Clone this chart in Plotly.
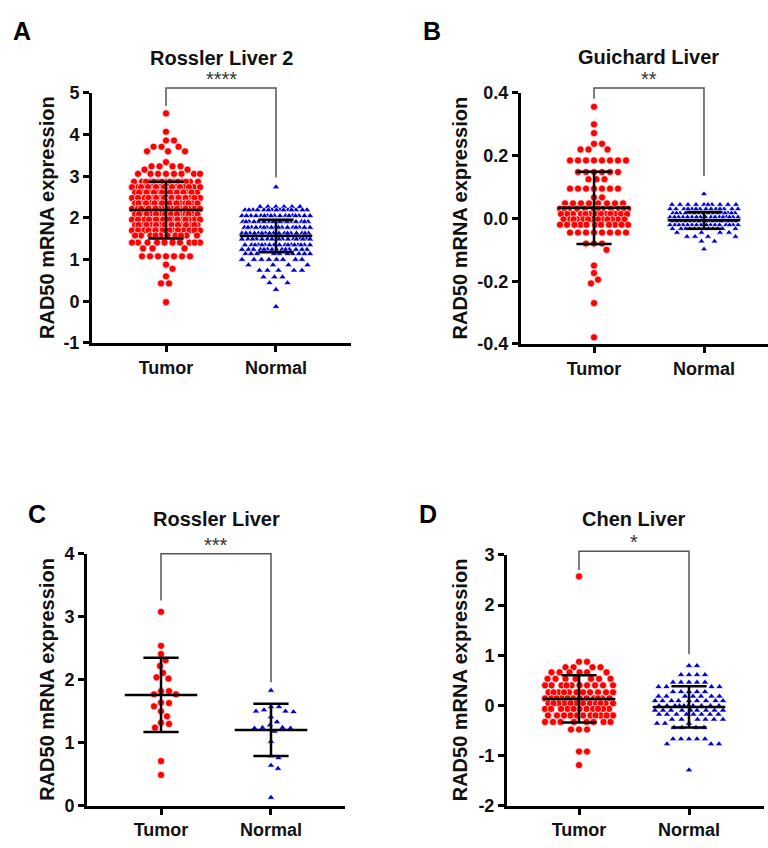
import numpy as np
import plotly.graph_objects as go

# ---------------- data ----------------
groups = ["Tumor", "Normal"]

# A: Rossler Liver 2 (value of each swarm row and the number of points in that row)
a_tumor_levels = [4.51, 4.07, 3.86, 3.71, 3.60, 3.34, 3.24, 3.16, 3.06,
                  2.87, 2.74, 2.61, 2.48, 2.35, 2.22, 2.09, 1.96, 1.83, 1.70,
                  1.58, 1.41, 1.27, 1.08, 0.88, 0.78, 0.60, 0.43, -0.02]
a_tumor_counts = [1, 1, 2, 3, 3, 1, 4, 2, 8,
                  15, 17, 17, 17, 17, 17, 17, 17, 17, 16,
                  10, 10, 3, 7, 1, 1, 1, 2, 1]
a_normal_levels = [2.74, 2.27, 2.19, 2.05, 1.91, 1.77, 1.63, 1.49, 1.35, 1.24,
                   1.14, 1.00, 0.87, 0.74, 0.58, 0.44, 0.28, -0.13]
a_normal_counts = [1, 6, 15, 17, 17, 17, 17, 17, 17, 14,
                   10, 8, 4, 5, 3, 2, 1, 1]

# B: Guichard Liver
b_tumor_levels = [0.356, 0.300, 0.272, 0.238, 0.220, 0.185, 0.148, 0.125, 0.095, 0.067,
                  0.048, 0.031, 0.014, -0.003, -0.020, -0.045, -0.080, -0.100,
                  -0.150, -0.174, -0.195, -0.207, -0.270, -0.379]
b_tumor_counts = [1, 1, 1, 2, 3, 8, 6, 3, 7, 2,
                  8, 12, 13, 13, 11, 8, 3, 1,
                  1, 1, 1, 1, 1, 1]
b_normal_levels = [0.078, 0.044, 0.030, 0.017, 0.004, -0.009, -0.021, -0.033,
                   -0.045, -0.058, -0.073, -0.098]
b_normal_counts = [1, 10, 14, 16, 17, 17, 16, 12, 4, 4, 2, 1]

# C: Rossler Liver (individual values)
c_tumor_values = [3.08, 2.54, 2.41, 2.31, 2.22, 2.11, 2.04, 2.02, 1.82, 1.77, 1.77, 1.82,
                  1.64, 1.63, 1.58, 1.50, 1.42, 1.32, 1.30, 1.24, 0.71, 0.49]
c_normal_values = [1.83, 1.57, 1.57, 1.50, 1.49, 1.50, 1.52, 1.41, 1.33, 1.28, 1.24,
                   1.23, 1.18, 1.23, 1.24, 1.02, 0.76, 0.79, 0.64, 0.59, 0.13]

# D: Chen Liver
d_tumor_levels = [2.57, 0.87, 0.76, 0.66, 0.53, 0.40, 0.26, 0.14, 0.04, -0.07, -0.20,
                  -0.33, -0.48, -0.92, -1.19]
d_tumor_counts = [1, 2, 4, 6, 7, 10, 11, 12, 12, 11, 11, 8, 3, 2, 1]
d_normal_levels = [0.79, 0.61, 0.46, 0.37, 0.27, 0.18, 0.09, -0.01, -0.10, -0.18,
                   -0.28, -0.36, -0.44, -0.67, -0.77, -1.29]
d_normal_counts = [2, 4, 5, 4, 5, 7, 9, 10, 9, 8, 6, 3, 4, 5, 3, 1]

# mean and SD shown by the error bars [Tumor, Normal]
a_mean = [2.19, 1.57]
a_sd = [0.68, 0.39]
b_mean = [0.034, -0.006]
b_sd = [0.115, 0.027]
c_mean = [1.76, 1.205]
c_sd = [0.59, 0.415]
d_mean = [0.13, -0.03]
d_sd = [0.47, 0.41]

titles = ["Rossler Liver 2", "Guichard Liver", "Rossler Liver", "Chen Liver"]
letters = ["A", "B", "C", "D"]
stars = ["****", "**", "***", "*"]
y_title = "RAD50 mRNA expression"

a_ticks = [-1, 0, 1, 2, 3, 4, 5]
a_ticklabels = ["-1", "0", "1", "2", "3", "4", "5"]
b_ticks = [-0.4, -0.2, 0.0, 0.2, 0.4]
b_ticklabels = ["-0.4", "-0.2", "0.0", "0.2", "0.4"]
c_ticks = [0, 1, 2, 3, 4]
c_ticklabels = ["0", "1", "2", "3", "4"]
d_ticks = [-2, -1, 0, 1, 2, 3]
d_ticklabels = ["-2", "-1", "0", "1", "2", "3"]

# significance bracket: [top, left leg end, right leg end] in data units
a_bracket = [5.12, 4.69, 2.97]
b_bracket = [0.4156, 0.382, 0.135]
c_bracket = [4.0, 3.26, 1.96]
d_bracket = [3.07, 2.70, 1.02]

# ---------------- layout geometry ----------------
W, H = 768, 848
FONT = "Liberation Sans, Arial, sans-serif"
RED = "#FF0000"
BLUE = "#0000CD"

panels = [
    dict(px=(92, 351), py=(85, 341), xr=(-0.673, 1.682), yr=(-1, 5),
         t=(a_ticks, a_ticklabels), bracket=a_bracket, mean=a_mean, sd=a_sd,
         data=(np.repeat(a_tumor_levels, a_tumor_counts), np.repeat(a_normal_levels, a_normal_counts)),
         title_pos=(221, 49), letter_pos=(22, 21), ytitle_x=47, msize=(7.2, 6.6)),
    dict(px=(521, 768), py=(85, 342), xr=(-0.664, 1.582), yr=(-0.4, 0.4),
         t=(b_ticks, b_ticklabels), bracket=b_bracket, mean=b_mean, sd=b_sd,
         data=(np.repeat(b_tumor_levels, b_tumor_counts), np.repeat(b_normal_levels, b_normal_counts)),
         title_pos=(648, 48), letter_pos=(432, 21), ytitle_x=460, msize=(7.2, 6.2)),
    dict(px=(87, 345), py=(557, 815), xr=(-0.673, 1.673), yr=(0, 4),
         t=(c_ticks, c_ticklabels), bracket=c_bracket, mean=c_mean, sd=c_sd,
         data=(np.array(c_tumor_values), np.array(c_normal_values)),
         title_pos=(216, 521), letter_pos=(37, 516), ytitle_x=47, msize=(7.2, 6.6)),
    dict(px=(507, 764), py=(558, 815), xr=(-0.655, 1.682), yr=(-2, 3),
         t=(d_ticks, d_ticklabels), bracket=d_bracket, mean=d_mean, sd=d_sd,
         data=(np.repeat(d_tumor_levels, d_tumor_counts), np.repeat(d_normal_levels, d_normal_counts)),
         title_pos=(634, 521), letter_pos=(428, 516), ytitle_x=460, msize=(7.2, 6.6)),
]


def swarm_offsets(values, ypx_per_unit, xpx_per_unit, d=7.7, wmax=34.0):
    """Beeswarm layout: horizontal offset for each point (in x-axis units)."""
    vals = np.asarray(values, dtype=float)
    ypix = vals * ypx_per_unit
    order = np.argsort(-vals, kind="stable")
    steps = np.arange(0.5, wmax + 0.01, 0.5)
    cand = np.concatenate([[0.0], np.ravel(np.column_stack([steps, -steps]))])
    px_list, py_list = [], []
    offs = np.zeros(len(vals))
    for idx in order:
        y = ypix[idx]
        x = 0.0
        if px_list:
            pxa = np.array(px_list)
            pya = np.array(py_list)
            near = np.abs(pya - y) < d
            if near.any():
                dx = cand[:, None] - pxa[near][None, :]
                dy = (pya[near] - y)[None, :]
                dist = np.sqrt(dx ** 2 + dy ** 2).min(axis=1)
                ok = np.where(dist >= d - 1e-6)[0]
                x = cand[ok[0]] if len(ok) else cand[int(np.argmax(dist))]
        offs[idx] = x
        px_list.append(x)
        py_list.append(y)
    return offs / xpx_per_unit


fig = go.Figure()
annotations = []
shapes = []


def to_paper(p, x, y):
    fx = (x - p["xr"][0]) / (p["xr"][1] - p["xr"][0])
    fy = (y - p["yr"][0]) / (p["yr"][1] - p["yr"][0])
    xp = (p["px"][0] + fx * (p["px"][1] - p["px"][0])) / W
    yp = 1 - (p["py"][1] - fy * (p["py"][1] - p["py"][0])) / H
    return xp, yp


for i, p in enumerate(panels):
    n = "" if i == 0 else str(i + 1)
    xa, ya = "x" + n, "y" + n
    xpu = (p["px"][1] - p["px"][0]) / (p["xr"][1] - p["xr"][0])
    ypu = (p["py"][1] - p["py"][0]) / (p["yr"][1] - p["yr"][0])
    for g in range(2):
        vals = p["data"][g]
        off = swarm_offsets(vals, ypu, xpu)
        fig.add_trace(go.Scatter(
            x=g + off, y=vals, mode="markers", xaxis=xa, yaxis=ya,
            marker=dict(symbol="circle" if g == 0 else "triangle-up",
                        size=p["msize"][g], color=RED if g == 0 else BLUE,
                        line=dict(width=0.7, color="white")),
            showlegend=False, hoverinfo="skip", cliponaxis=False))
    # error bars (mean +/- SD)
    ex, ey = [], []
    for g in range(2):
        m, s = p["mean"][g], p["sd"][g]
        ex += [g - 0.33, g + 0.33, None, g - 0.16, g + 0.16, None, g - 0.16, g + 0.16, None, g, g, None]
        ey += [m, m, None, m + s, m + s, None, m - s, m - s, None, m - s, m + s, None]
    fig.add_trace(go.Scatter(x=ex, y=ey, mode="lines", xaxis=xa, yaxis=ya,
                             line=dict(color="black", width=2.5),
                             showlegend=False, hoverinfo="skip"))
    # axes
    xdom = [p["px"][0] / W, p["px"][1] / W]
    ydom = [1 - p["py"][1] / H, 1 - p["py"][0] / H]
    fig.update_layout(**{
        ("xaxis" + n): dict(domain=xdom, range=list(p["xr"]), anchor=ya,
                            tickvals=[0, 1], ticktext=groups, ticks="outside", ticklen=6,
                            tickwidth=3, tickcolor="black", showline=True, linewidth=3,
                            linecolor="black", showgrid=False, zeroline=False,
                            tickfont=dict(family=FONT, size=18, color="#111", weight="bold")),
        ("yaxis" + n): dict(domain=ydom, range=list(p["yr"]), anchor=xa,
                            tickvals=p["t"][0], ticktext=p["t"][1], ticks="outside", ticklen=6,
                            tickwidth=3, tickcolor="black", showline=True, linewidth=3,
                            linecolor="black", showgrid=False, zeroline=False,
                            tickfont=dict(family=FONT, size=18, color="#111", weight="bold")),
    })
    # significance bracket and stars
    top, lend, rend = p["bracket"]
    x0p, ytop = to_paper(p, 0, top)
    x1p, _ = to_paper(p, 1, top)
    _, yl = to_paper(p, 0, lend)
    _, yr_ = to_paper(p, 1, rend)
    shapes.append(dict(type="path", xref="paper", yref="paper",
                       path=f"M {x0p},{yl} L {x0p},{ytop} L {x1p},{ytop} L {x1p},{yr_}",
                       line=dict(color="#555", width=1.5)))
    annotations.append(dict(text=stars[i], xref="paper", yref="paper",
                            x=(x0p + x1p) / 2, y=ytop - 4 / H, xanchor="center", yanchor="bottom",
                            showarrow=False, font=dict(family=FONT, size=20, color="#333")))
    # title, panel letter, y title
    annotations.append(dict(text=titles[i], xref="paper", yref="paper",
                            x=p["title_pos"][0] / W, y=1 - p["title_pos"][1] / H,
                            xanchor="center", yanchor="middle", showarrow=False,
                            font=dict(family=FONT, size=20, color="#111", weight="bold")))
    annotations.append(dict(text=letters[i], xref="paper", yref="paper",
                            x=p["letter_pos"][0] / W, y=1 - p["letter_pos"][1] / H,
                            xanchor="center", yanchor="middle", showarrow=False,
                            font=dict(family=FONT, size=25, color="black", weight="bold")))
    annotations.append(dict(text=y_title, xref="paper", yref="paper", textangle=-90,
                            x=p["ytitle_x"] / W, y=(ydom[0] + ydom[1]) / 2,
                            xanchor="center", yanchor="middle", showarrow=False,
                            font=dict(family=FONT, size=20, color="#111", weight="bold")))

fig.update_layout(width=W, height=H, margin=dict(l=0, r=0, t=0, b=0),
                  paper_bgcolor="white", plot_bgcolor="white",
                  annotations=annotations, shapes=shapes, showlegend=False)

pin_to_corner = (
    "document.documentElement.style.margin='0';"
    "document.body.style.margin='0';"
    "document.body.style.overflow='hidden';"
    "var gd=document.getElementById('{plot_id}');"
    "gd.style.position='absolute';gd.style.left='0px';gd.style.top='0px';"
)
fig.write_html("out.html", post_script=pin_to_corner, config={"displayModeBar": False})
